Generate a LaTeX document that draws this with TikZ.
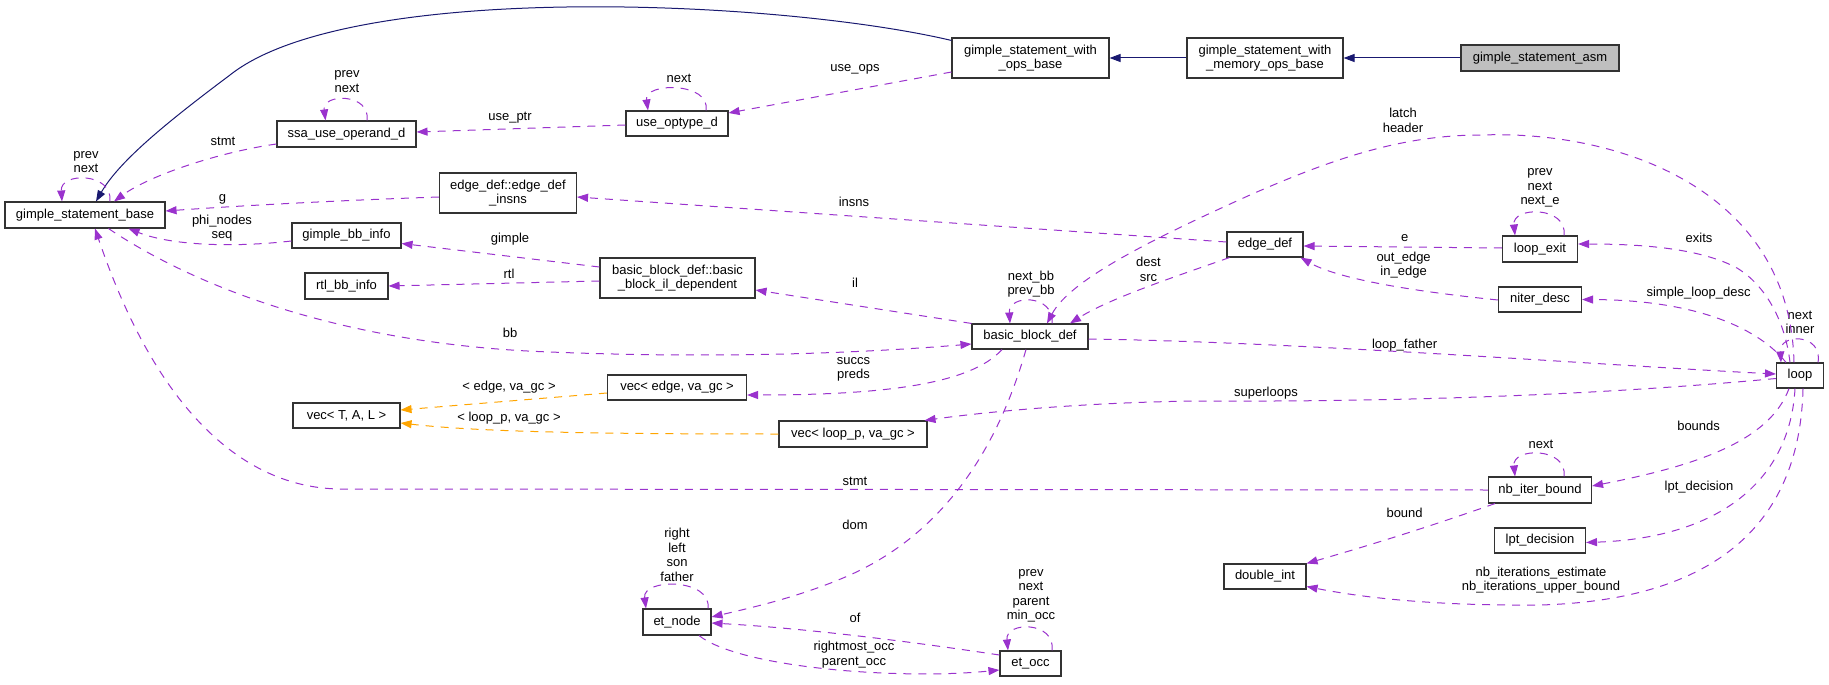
\documentclass[tikz,border=0pt]{standalone}
\usepackage{fontspec}
\setmainfont{Liberation Sans}
\usetikzlibrary{arrows.meta}
\definecolor{depc}{HTML}{9A32CD}
\definecolor{tmplc}{HTML}{FFA500}
\definecolor{inhc}{HTML}{191970}
\definecolor{boxc}{HTML}{333333}
\definecolor{greyc}{HTML}{BFBFBF}
\begin{document}
\begin{tikzpicture}[x=1pt,y=-1pt,
  font=\fontsize{13}{14.5}\selectfont,
  cls/.style={draw=boxc, line width=1.1pt, fill=white, inner sep=0pt, align=center},
  lbl/.style={inner sep=0pt, align=center},
  depe/.style={draw=depc, line width=1pt, dash pattern=on 8pt off 7pt,
    -{Triangle[length=11pt,width=8pt,fill=depc]}},
  tmple/.style={draw=tmplc, line width=1pt, dash pattern=on 8pt off 7pt,
    -{Triangle[length=11pt,width=8pt,fill=tmplc]}},
  inhe/.style={draw=inhc, line width=1pt,
    -{Triangle[length=11pt,width=8pt,fill=inhc]}}]
\useasboundingbox (0,0) rectangle (1829,685);

% ---------- nodes ----------
\node[cls, minimum width=160pt, minimum height=26pt] (gsb) at (85,215) {gimple\_statement\_base};
\node[cls, minimum width=139pt, minimum height=26pt] (ssa) at (346.5,134) {ssa\_use\_operand\_d};
\node[cls, minimum width=137pt, minimum height=40pt] (edi) at (508,193) {edge\_def::edge\_def\\\_insns};
\node[cls, minimum width=109pt, minimum height=25pt] (gbb) at (346.5,235.5) {gimple\_bb\_info};
\node[cls, minimum width=83pt, minimum height=26pt] (rtl) at (346.5,286) {rtl\_bb\_info};
\node[cls, minimum width=107pt, minimum height=25pt] (vect) at (346.5,415.5) {vec< T, A, L >};
\node[cls, minimum width=102pt, minimum height=25pt] (uot) at (677,123.5) {use\_optype\_d};
\node[cls, minimum width=155pt, minimum height=40pt] (ild) at (677.5,278) {basic\_block\_def::basic\\\_block\_il\_dependent};
\node[cls, minimum width=139pt, minimum height=25pt] (vecedge) at (677,387.5) {vec< edge, va\_gc >};
\node[cls, minimum width=68pt, minimum height=26pt] (etnode) at (677,622) {et\_node};
\node[cls, minimum width=157pt, minimum height=40pt] (ops) at (1030.5,58) {gimple\_statement\_with\\\_ops\_base};
\node[cls, minimum width=116pt, minimum height=25pt] (bbd) at (1030,336.5) {basic\_block\_def};
\node[cls, minimum width=148pt, minimum height=26pt] (veclp) at (853,434) {vec< loop\_p, va\_gc >};
\node[cls, minimum width=61pt, minimum height=25pt] (etocc) at (1030.5,663.5) {et\_occ};
\node[cls, minimum width=156pt, minimum height=40pt] (mem) at (1265,58) {gimple\_statement\_with\\\_memory\_ops\_base};
\node[cls, minimum width=76pt, minimum height=25pt] (edgedef) at (1265,244.5) {edge\_def};
\node[cls, minimum width=82pt, minimum height=25pt] (dint) at (1265,576.5) {double\_int};
\node[cls, fill=greyc, minimum width=158pt, minimum height=26pt] (asm) at (1540,58) {gimple\_statement\_asm};
\node[cls, minimum width=75pt, minimum height=26pt] (lexit) at (1540,249) {loop\_exit};
\node[cls, minimum width=83pt, minimum height=25pt] (niter) at (1540,299.5) {niter\_desc};
\node[cls, minimum width=103pt, minimum height=26pt] (nbib) at (1540,490) {nb\_iter\_bound};
\node[cls, minimum width=91pt, minimum height=25pt] (lpt) at (1540,540.5) {lpt\_decision};
\node[cls, minimum width=47pt, minimum height=25pt] (loop) at (1800,375.5) {loop};

% ---------- inheritance ----------
\draw[inhe] ([yshift=-3pt]ops.north west) .. controls (780,0) and (350,-20) .. (230,75)
  .. controls (170,120) and (120,160) .. ([xshift=11pt]gsb.north);
\draw[inhe] (mem.west) -- (ops.east);
\draw[inhe] (asm.west) -- (mem.east);

% ---------- self loops ----------
\draw[depe] ([xshift=25pt]gsb.north) .. controls (113,172) and (60,172) .. ([xshift=-23pt]gsb.north);
\node[lbl] (lgsb) at (86,162) {prev\\next};
\draw[depe] ([xshift=20.5pt]ssa.north) .. controls (371,93) and (322,93) .. ([xshift=-21pt]ssa.north);
\node[lbl] (lssa) at (347,81.5) {prev\\next};
\draw[depe] ([xshift=29pt]uot.north) .. controls (711,82) and (644,82) .. ([xshift=-29pt]uot.north);
\node[lbl] (luot) at (679,78) {next};
\draw[depe] ([xshift=22pt]bbd.north) .. controls (1055,294) and (1008,294) .. ([xshift=-20pt]bbd.north);
\node[lbl] (lbbd) at (1031,284) {next\_bb\\prev\_bb};
\draw[depe] ([xshift=24pt]lexit.north) .. controls (1568,206) and (1512,206) .. ([xshift=-25pt]lexit.north);
\node[lbl] (llexit) at (1540,188) {prev\\next\\next\_e};
\draw[depe] ([xshift=18pt]loop.north) .. controls (1823,333) and (1779,333) .. ([xshift=-19pt]loop.north);
\node[lbl] (lloop) at (1800,322.5) {next\\inner};
\draw[depe] ([xshift=24pt]nbib.north) .. controls (1568,447) and (1512,447) .. ([xshift=-25pt]nbib.north);
\node[lbl] (lnbib) at (1541,444) {next};
\draw[depe] ([xshift=31pt]etnode.north) .. controls (712,578) and (642,578) .. ([xshift=-31pt]etnode.north);
\node[lbl] (letnode) at (677,555) {right\\left\\son\\father};
\draw[depe] ([xshift=21.5pt]etocc.north) .. controls (1056,621) and (1005,621) .. ([xshift=-22.5pt]etocc.north);
\node[lbl] (letocc) at (1031,596) {prev\\next\\parent\\min\_occ};

% ---------- dependencies ----------
\draw[depe] ([yshift=-10pt]ssa.west) .. controls (220,152) and (150,175) .. ([xshift=29pt]gsb.north);
\node[lbl] (l1) at (223,141) {stmt};
\draw[depe] ([yshift=-1.5pt]uot.west) -- ([yshift=2pt]ssa.east);
\node[lbl] (l2) at (510,118) {use\_ptr};
\draw[depe] ([yshift=-14pt]ops.west) -- ([yshift=10.5pt]uot.east);
\node[lbl] (l3) at (855,69) {use\_ops};
\draw[depe] ([yshift=-4pt]edi.west) .. controls (350,200) and (250,205) .. ([yshift=4pt]gsb.east);
\node[lbl] (l4) at (222.6,199) {g};
\draw[depe] ([yshift=-5.5pt]gbb.west) .. controls (230,248) and (170,245) .. ([xshift=43.5pt]gsb.south);
\node[lbl] (l5) at (222,228) {phi\_nodes\\seq};
\draw[depe] ([yshift=11pt]ild.west) -- ([yshift=-8pt]gbb.east);
\node[lbl] (l6) at (510,239) {gimple};
\draw[depe] ([yshift=-3pt]ild.west) -- (rtl.east);
\node[lbl] (l7) at (509,274) {rtl};
\draw[depe] ([yshift=2.5pt]edgedef.west) -- ([yshift=-4pt]edi.east);
\node[lbl] (l8) at (854,202) {insns};
\draw[depe] ([xshift=23.5pt]gsb.south) .. controls (200,290) and (350,345) .. (550,352)
  .. controls (750,360) and (900,350) .. ([yshift=-7.5pt]bbd.west);
\node[lbl] (l9) at (510,333) {bb};
\draw[depe] (nbib.west) -- (340,489) .. controls (250,488) and (160,420) .. ([xshift=10pt]gsb.south);
\node[lbl] (l10) at (855,481) {stmt};
\draw[depe] (bbd.north west) -- ([yshift=-12pt]ild.east);
\node[lbl] (l11) at (855,283) {il};
\draw[depe] ([xshift=-6pt]loop.north) .. controls (1790,190) and (1620,130) .. (1481,135)
  .. controls (1400,135) and (1330,160) .. (1250,195)
  .. controls (1150,240) and (1070,280) .. ([xshift=17pt]bbd.north);
\node[lbl] (l12) at (1403,120.5) {latch\\header};
\draw[depe] ([xshift=3pt]edgedef.south west) .. controls (1180,275) and (1110,298) .. ([xshift=40pt]bbd.north);
\node[lbl] (l13) at (1148.5,269.5) {dest\\src};
\draw[depe] ([yshift=1pt]lexit.west) -- ([yshift=-1.5pt]edgedef.east);
\node[lbl] (l14) at (1404.6,238) {e};
\draw[depe] ([xshift=-10pt]loop.north) .. controls (1785,320) and (1765,285) .. (1737,268)
  .. controls (1700,248) and (1640,244) .. ([yshift=5pt]lexit.east);
\node[lbl] (l15) at (1699,238) {exits};
\draw[depe] ([xshift=-14pt]loop.north) .. controls (1760,330) and (1700,300) .. (niter.east);
\node[lbl] (l16) at (1698.6,293.5) {simple\_loop\_desc};
\draw[depe] ([yshift=-0.5pt]niter.west) .. controls (1420,292) and (1340,280) .. ([xshift=-3pt]edgedef.south east);
\node[lbl] (l17) at (1403.6,265) {out\_edge\\in\_edge};
\draw[depe] ([yshift=-2.5pt]bbd.east) .. controls (1300,342) and (1600,365) .. ([yshift=1.5pt]loop.west);
\node[lbl] (l18) at (1404.6,345) {loop\_father};
\draw[depe] ([yshift=-3pt]loop.west) .. controls (1600,395) and (1400,402) .. (1200,401)
  .. controls (1100,402) and (1000,410) .. ([xshift=-3pt]veclp.north east);
\node[lbl] (l19) at (1266,393) {superloops};
\draw[depe] ([xshift=-28pt]bbd.south) .. controls (970,385) and (880,395) .. ([yshift=-7.5pt]vecedge.east);
\node[lbl] (l20) at (853.5,369.5) {succs\\preds};
\draw[tmple] ([yshift=-5.5pt]vecedge.west) -- ([yshift=5.5pt]vect.east);
\node[lbl] (l21) at (509,387) {< edge, va\_gc >};
\draw[tmple] (veclp.west) .. controls (600,434) and (480,432) .. ([yshift=-7.5pt]vect.east);
\node[lbl] (l22) at (509,418) {< loop\_p, va\_gc >};
\draw[depe] ([xshift=-4pt]bbd.south) .. controls (1000,440) and (950,530) .. (850,575)
  .. controls (800,597) and (750,608) .. ([yshift=5pt]etnode.east);
\node[lbl] (l23) at (855,525) {dom};
\draw[depe] ([yshift=8.5pt]etocc.west) .. controls (900,640) and (800,628) .. ([yshift=-1pt]etnode.east);
\node[lbl] (l24) at (855,618) {of};
\draw[depe] ([xshift=22pt]etnode.south) .. controls (740,668) and (900,680) .. ([yshift=-6.5pt]etocc.west);
\node[lbl] (l25) at (854,654.5) {rightmost\_occ\\parent\_occ};
\draw[depe] ([xshift=-11pt]loop.south) .. controls (1770,440) and (1700,465) .. ([yshift=4pt]nbib.east);
\node[lbl] (l26) at (1698.6,426) {bounds};
\draw[depe] ([xshift=-5pt]loop.south) .. controls (1790,480) and (1720,538) .. ([yshift=-2pt]lpt.east);
\node[lbl] (l27) at (1699,487) {lpt\_decision};
\draw[depe] ([xshift=3pt]loop.south) .. controls (1800,520) and (1720,600) .. (1540,605)
  .. controls (1430,606) and (1360,597) .. ([yshift=-10pt]dint.east);
\node[lbl] (l28) at (1541,580) {nb\_iterations\_estimate\\nb\_iterations\_upper\_bound};
\draw[depe] ([xshift=-45pt]nbib.south) .. controls (1420,530) and (1360,548) .. (dint.north east);
\node[lbl] (l29) at (1404.6,513) {bound};
\end{tikzpicture}
\end{document}
